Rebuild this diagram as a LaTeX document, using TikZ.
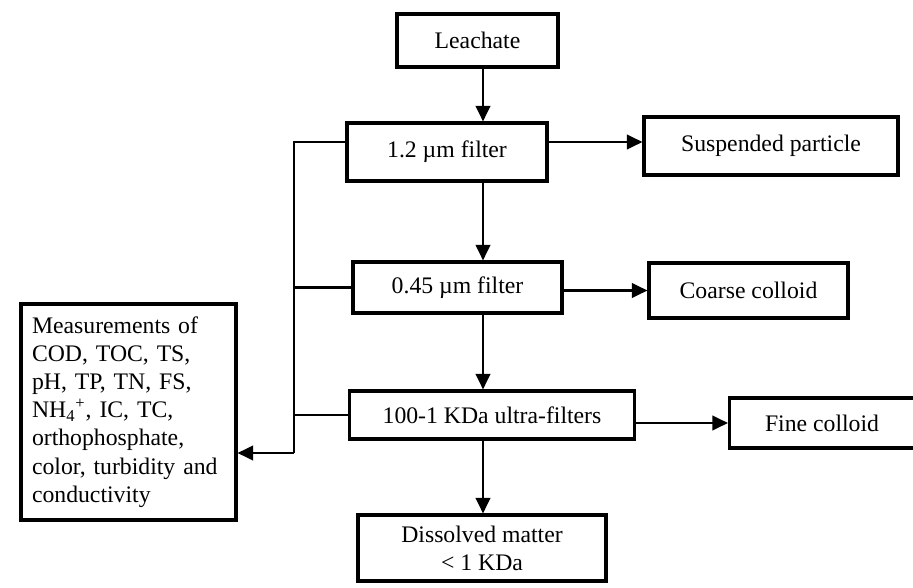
\documentclass[tikz,border=0pt]{standalone}
\usepackage{fontspec}
\setmainfont{Liberation Serif}
\usepackage{tikz}
\usetikzlibrary{arrows.meta,positioning,calc}

\begin{document}
\begin{tikzpicture}[
  x=0.02cm, y=-0.02cm,
  font=\fontsize{13.5}{16}\selectfont,
  box/.style={draw=black, line width=1.8pt, fill=white, align=center,
              inner sep=2pt},
  link/.style={line width=1.2pt, draw=black},
  arrow/.style={-{Triangle[length=3.1mm,width=2.9mm]}, line width=1.2pt, draw=black}
]
  \useasboundingbox (0,0) rectangle (913,588);
  \coordinate (spine) at (483,0);
  \coordinate (bus) at (294,0);
  \coordinate (upper) at (0,142);
  \coordinate (tap) at (294,453);

  \node[box, minimum width=3.22cm, minimum height=1.06cm] (leach) at (477.5,40.5) {Leachate};
  \node[box, minimum width=4.0cm, minimum height=1.16cm] (f12) at (447,152) {1.2 µm filter};
  \node[box, minimum width=5.08cm, minimum height=1.16cm] (susp) at (771,146) {Suspended particle};
  \node[box, minimum width=4.18cm, minimum height=1.02cm] (f045) at (457.5,287.5) {0.45 µm filter};
  \node[box, minimum width=3.98cm, minimum height=1.1cm] (coarse) at (748.5,290.5) {Coarse colloid};
  \node[box, minimum width=5.7cm, minimum height=0.96cm] (uf) at (492,415) {100-1 KDa ultra-filters};
  \node[box, minimum width=3.7cm, minimum height=1.0cm] (fine) at (822,423) {Fine colloid};
  \node[box, minimum width=4.96cm, minimum height=1.32cm] (diss) at (482,548)
    {Dissolved matter\\ {<} 1 KDa};
  \node[box, align=left, text width=3.86cm, inner xsep=0.22cm, minimum height=4.32cm]
    (meas) at (128.5,412)
    {Measurements of\\ COD, TOC, TS,\\ pH, TP, TN, FS,\\
     NH\textsubscript{4}\textsuperscript{+}, IC, TC,\\ orthophosphate,\\
     color, turbidity and\\ conductivity};

  \draw[arrow] (leach.south -| spine) -- (f12.north -| spine);
  \draw[arrow] (f12.south -| spine) -- (f045.north -| spine);
  \draw[arrow] (f045.south -| spine) -- (uf.north -| spine);
  \draw[arrow] (uf.south -| spine) -- (diss.north -| spine);

  \draw[arrow] (f12.east |- upper) -- (susp.west |- upper);
  \draw[arrow] (f045.east |- coarse.west) -- (coarse.west);
  \draw[arrow] (uf.east |- fine.west) -- (fine.west);

  \draw[link] (f12.west |- upper) -- (bus |- upper) -- (tap);
  \draw[link] (f045.west) -- (f045.west -| bus);
  \draw[link] (uf.west) -- (uf.west -| bus);
  \draw[arrow] (tap) -- (tap -| meas.east);
\end{tikzpicture}
\end{document}
